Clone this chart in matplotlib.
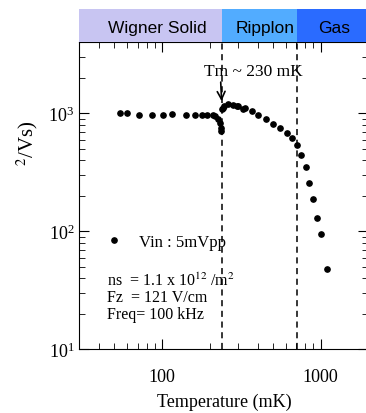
import numpy as np
import matplotlib
matplotlib.use('Agg')
import matplotlib.pyplot as plt

plt.rcParams['font.family'] = ['Liberation Serif', 'DejaVu Serif']
plt.rcParams['mathtext.fontset'] = 'stix'

# data (temperature in mK, mobility)
temp = [54.1, 59.6, 71.3, 85.7, 101.5, 114.6, 141.1, 160.9, 177.3, 192.3,
        209.9, 215.1, 225.7, 231.3, 233.8, 234.8,
        237.1, 240.5, 245.2, 258.8, 280.5, 295.0, 302.0, 324.6, 332.7, 366.6,
        403.6, 451.6, 502.2, 553.4, 609.6, 655.7, 705.6, 750.0, 805.4, 847.2,
        897.8, 952.0, 1000.0, 1101.0]
mob = [1000, 1000, 967, 967, 967, 981, 967, 967, 967, 967,
       962, 949, 890, 834, 757, 708,
       1081, 1117, 1153, 1192, 1169, 1153, 1153, 1096, 1117, 1040,
       975, 890, 818, 746, 677, 620, 536, 441, 353, 259,
       189, 130.6, 94.4, 47.6]

t_melt = 237
t_gas = 708
phases = ['Wigner Solid', 'Ripplon', 'Gas']
phase_edges = [30, 238, 710, 2000]
phase_colors = ['#c8c5f2', '#52acff', '#2a6bff']
phase_text_x = [45.4, 292, 962]

notes = ['ns  = 1.1 x 10$^{12}$ /m$^{2}$', 'Fz  = 121 V/cm', 'Freq= 100 kHz']

fig = plt.figure(figsize=(3.66, 4.14), dpi=100)
ax = fig.add_axes([0.2167, 0.1534, 0.790, 0.742])
band = fig.add_axes([0.2167, 0.8969, 0.790, 0.079])

ax.plot(temp, mob, 'o', color='black', markersize=3.8, label='Vin : 5mVpp')
ax.set_xscale('log')
ax.set_yscale('log')
ax.set_xlim(30, 2000)
ax.set_ylim(10, 4000)
ax.axvline(t_melt, color='black', linestyle=(0, (4, 3)), linewidth=1.1, zorder=0)
ax.axvline(t_gas, color='black', linestyle=(0, (4, 3)), linewidth=1.1, zorder=0)

ax.set_xticks([100, 1000])
ax.set_xticklabels(['100', '1000'])
ax.tick_params(which='both', direction='in', top=True, right=True, labelsize=13)
ax.tick_params(which='major', length=7)
ax.tick_params(which='minor', length=4)
ax.tick_params(axis='x', which='major', pad=13)
ax.set_xlabel('Temperature (mK)', fontsize=13, labelpad=6)
fig.text(0.075, 0.655, '$^2$/Vs)', rotation=90, fontsize=15, ha='center', va='center')

ax.annotate('Tm ~ 230 mK', xy=(t_melt, 1270), xytext=(183, 2270),
            fontsize=12.5, va='center', ha='left',
            arrowprops=dict(arrowstyle='->', color='black', lw=1.2,
                            shrinkA=0, shrinkB=0, mutation_scale=14,
                            relpos=(0.17, 0.0)))

ax.legend(loc='upper left', bbox_to_anchor=(0.04, 0.425), frameon=False,
          fontsize=12, handletextpad=1.0, markerscale=1.0, handlelength=1.0)

for i, line in enumerate(notes):
    ax.text(0.095, 0.225 - i * 0.055, line, transform=ax.transAxes,
            fontsize=11.5, va='center', ha='left')

band.set_xscale('log')
band.set_xlim(30, 2000)
band.set_ylim(0, 1)
for i in range(len(phases)):
    band.axvspan(phase_edges[i], phase_edges[i + 1], color=phase_colors[i], lw=0)
    band.text(phase_text_x[i], 0.42, phases[i], ha='left', va='center',
              fontsize=12.5, family=['Liberation Sans', 'DejaVu Sans'])
band.axis('off')

fig.savefig('out.png', dpi=100)
